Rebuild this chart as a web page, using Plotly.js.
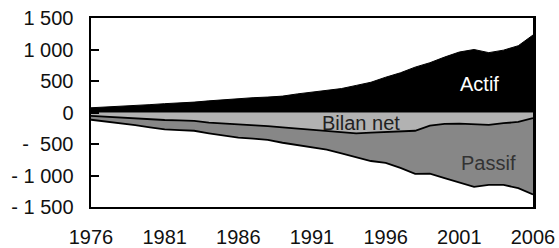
<!DOCTYPE html>
<html><head><meta charset="utf-8">
<script src="https://cdn.plot.ly/plotly-3.0.1.min.js"></script>
<style>html,body{margin:0;padding:0;background:#fff}#chart{width:559px;height:248px}</style>
</head><body><div id="chart"></div>
<script>
const years = [1976,1977,1978,1979,1980,1981,1982,1983,1984,1985,1986,1987,1988,1989,1990,1991,1992,1993,1994,1995,1996,1997,1998,1999,2000,2001,2002,2003,2004,2005,2006];
const actif = [75,85,95,110,125,140,150,165,185,205,220,235,245,260,295,320,345,380,430,480,560,630,720,790,880,960,1000,950,990,1060,1230];
const passif = [-115,-140,-170,-200,-235,-267,-280,-290,-330,-370,-400,-415,-436,-480,-516,-545,-590,-650,-710,-770,-800,-880,-975,-970,-1040,-1110,-1180,-1150,-1150,-1200,-1300];
const bilanNet = [-55,-70,-85,-95,-105,-119,-125,-132,-160,-172,-185,-205,-215,-235,-252,-270,-285,-310,-330,-320,-310,-295,-290,-210,-180,-175,-190,-195,-170,-150,-90];
const yTickVals = [1500,1000,500,0,-500,-1000,-1500];
const yTickText = ['1 500','1 000','500','0','-\u00a0\u00a0500','-\u00a01 000','-\u00a01 500'];
const xTickVals = [1976,1981,1986,1991,1996,2001,2006];
const seriesNames = ['Actif','Bilan net','Passif'];

const font = 'Liberation Sans, Arial, sans-serif';
const traces = [
  {x: years, y: passif, name: seriesNames[2], type: 'scatter', mode: 'lines', fill: 'tozeroy',
   fillcolor: '#878787', line: {color: '#000', width: 1.8}},
  {x: years, y: bilanNet, name: seriesNames[1], type: 'scatter', mode: 'lines', fill: 'tozeroy',
   fillcolor: '#b2b2b2', line: {color: '#000', width: 1.8}},
  {x: years, y: actif, name: seriesNames[0], type: 'scatter', mode: 'lines', fill: 'tozeroy',
   fillcolor: '#000', line: {color: '#000', width: 1}}
];
const layout = {
  width: 559, height: 248,
  margin: {l: 91, r: 26, t: 18, b: 41},
  paper_bgcolor: '#fff', plot_bgcolor: '#fff',
  showlegend: false,
  font: {family: font, size: 20, color: '#111'},
  xaxis: {range: [1976, 2006], tickvals: xTickVals, ticktext: xTickVals.map(String),
    showgrid: false, zeroline: false, showline: true, linecolor: '#000', linewidth: 2, mirror: true,
    ticks: '', ticklabelstandoff: 11, tickfont: {size: 20, color: '#111'}},
  yaxis: {range: [-1500, 1500], tickvals: yTickVals, ticktext: yTickText,
    showgrid: false, zeroline: false, showline: true, linecolor: '#000', linewidth: 2.5, mirror: true,
    ticks: 'inside', ticklen: 8, tickwidth: 2, tickcolor: '#000', ticklabelstandoff: 11,
    tickfont: {size: 20, color: '#111'}},
  annotations: [
    {x: 2002.4, y: 452, text: 'Actif', showarrow: false, font: {family: font, size: 20, color: '#fff'}},
    {x: 1994.3, y: -167, text: 'Bilan net', showarrow: false, font: {family: font, size: 20, color: '#222'}},
    {x: 2003.0, y: -809, text: 'Passif', showarrow: false, font: {family: font, size: 20, color: '#333'}}
  ]
};
Plotly.newPlot('chart', traces, layout, {staticPlot: true, displayModeBar: false});
</script></body></html>
